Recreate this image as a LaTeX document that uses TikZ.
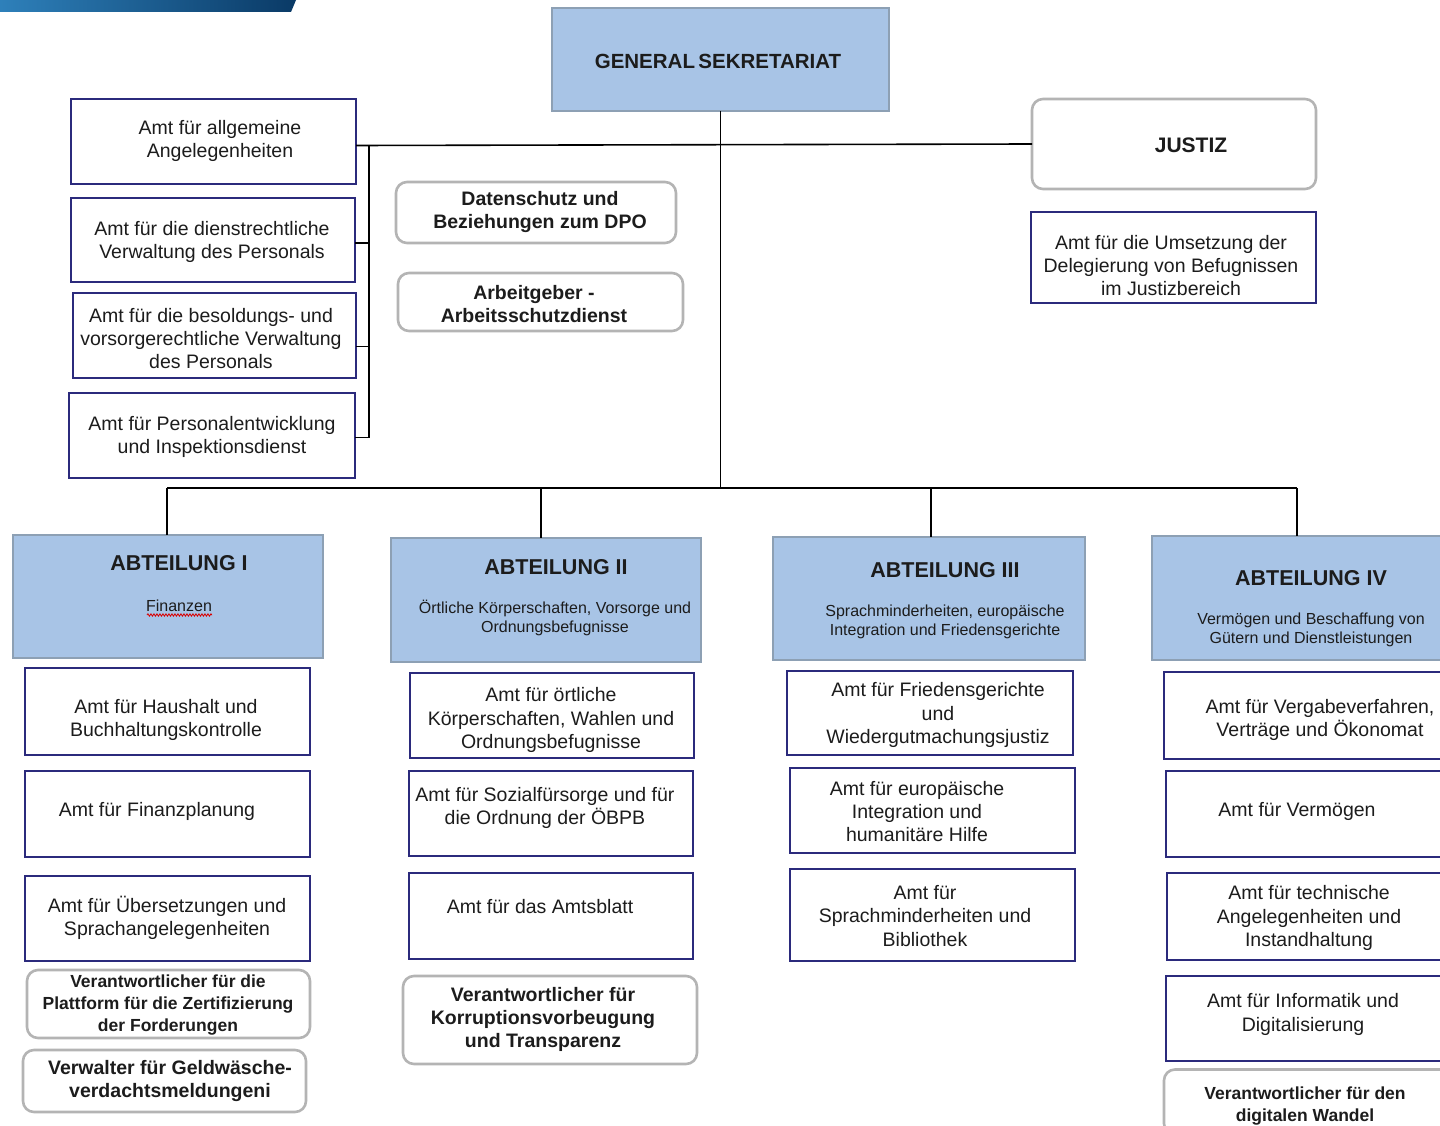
\documentclass[tikz,border=0pt]{standalone}
\usepackage{fontspec}
\setmainfont{Liberation Sans}
\usetikzlibrary{decorations.pathmorphing,calc}
\definecolor{navy}{HTML}{2B2A7C}
\definecolor{hdrfill}{HTML}{A8C4E6}
\definecolor{hdrline}{HTML}{8DA0B4}
\definecolor{rndline}{HTML}{B4B4B4}
\definecolor{ink}{HTML}{1C1C1C}
\definecolor{barL}{HTML}{2E80BA}
\definecolor{barR}{HTML}{0A3A66}
\newcommand\orgbox[9]{%
  \node[#1, minimum width=#5, minimum height=#6] (#2) at (#3,#4) {};
  \node[#1 text] (#2-t) at (#7,#8) {#9};
}
\begin{document}
\begin{tikzpicture}[x=1pt,y=-1pt,
  every node/.style={inner sep=0pt, outer sep=0pt, text=ink},
  amt/.style={draw=navy, line width=2.6pt, fill=white},
  amt text/.style={align=center, yshift=-2.5pt, font=\fontsize{19.5}{23.3}\selectfont},
  rnd/.style={draw=rndline, line width=2.6pt, fill=white, rounded corners=11pt},
  rnd text/.style={align=center, yshift=-2.5pt, font=\fontsize{19.5}{23}\selectfont\bfseries},
  rnds/.style={rnd},
  rnds text/.style={align=center, yshift=-2pt, font=\fontsize{17.5}{22}\selectfont\bfseries},
  hdr/.style={draw=hdrline, line width=2.6pt, fill=hdrfill},
  hdr text/.style={align=center, yshift=-1.5pt, font=\fontsize{21.5}{25}\selectfont\bfseries},
  sub/.style={align=center, yshift=-1.5pt, font=\fontsize{16}{19.5}\selectfont},
  link/.style={draw=black, line width=1.6pt}
]
\clip (0,0) rectangle (1440,1126);
\useasboundingbox (0,0) rectangle (1440,1126);
\fill[white] (0,0) rectangle (1440,1126);
% top blue bar
\shade[left color=barL, right color=barR] (0,0) -- (296,0) -- (291,12) -- (0,12) -- cycle;

% General Sekretariat
\orgbox{hdr}{gs}{720.5}{59.5}{337}{103}{718}{60}{\fontsize{20.5}{24}\selectfont GENERAL\,SEKRETARIAT}
% Justiz
\orgbox{rnd}{justiz}{1174}{144}{284}{90}{1191}{143}{\fontsize{21}{24}\selectfont JUSTIZ}
\orgbox{amt}{umsetz}{1173.5}{257.5}{285}{91}{1171}{263}{Amt für die Umsetzung der\\Delegierung von Befugnissen\\im Justizbereich}

% left staff offices
\orgbox{amt}{a1}{213.5}{141.5}{285}{85}{220}{138.5}{Amt für allgemeine\\Angelegenheiten}
\orgbox{amt}{a2}{213}{240}{284}{84}{212}{239.5}{Amt für die dienstrechtliche\\Verwaltung des Personals}
\orgbox{amt}{a3}{214.5}{335.5}{283}{85}{211}{336}{Amt für die besoldungs- und\\vorsorgerechtliche Verwaltung\\des Personals}
\orgbox{amt}{a4}{212}{435.5}{286}{85}{212}{434.5}{Amt für Personalentwicklung\\und Inspektionsdienst}

% central staff
\orgbox{rnd}{dpo}{536}{212.5}{280}{61}{540}{209.5}{Datenschutz und\\Beziehungen zum DPO}
\orgbox{rnd}{agb}{540.5}{302}{285}{58}{534}{301.5}{Arbeitgeber -\\Arbeitsschutzdienst}

% Abteilungen
\node[hdr, minimum width=310, minimum height=123] (ab1) at (168,596.5) {};
\node[hdr text] (ab1-t) at (179,562) {ABTEILUNG I};
\node[sub] (ab1-s) at (179,604) {Finanzen};
\draw[red!85!black, line width=0.8pt, decorate, decoration={snake, amplitude=1.2pt, segment length=3pt}] (147,615) -- (212,615);

\node[hdr, minimum width=310, minimum height=124] (ab2) at (546,600) {};
\node[hdr text] (ab2-t) at (556,566) {ABTEILUNG II};
\node[sub] (ab2-s) at (555,616.5) {Örtliche Körperschaften, Vorsorge und\\Ordnungsbefugnisse};

\node[hdr, minimum width=312, minimum height=123] (ab3) at (929,598.5) {};
\node[hdr text] (ab3-t) at (945,569) {ABTEILUNG III};
\node[sub] (ab3-s) at (945,620.5) {Sprachminderheiten, europäische\\Integration und Friedensgerichte};

\node[hdr, minimum width=318, minimum height=124] (ab4) at (1311,598) {};
\node[hdr text] (ab4-t) at (1311,577) {ABTEILUNG IV};
\node[sub] (ab4-s) at (1311,628.5) {Vermögen und Beschaffung von\\Gütern und Dienstleistungen};

% column I
\orgbox{amt}{b1}{167.5}{711.5}{285}{87}{166}{717.5}{Amt für Haushalt und\\Buchhaltungskontrolle}
\orgbox{amt}{b2}{167.5}{814}{285}{86}{157}{809}{Amt für Finanzplanung}
\orgbox{amt}{b3}{167.5}{918.5}{285}{85}{167}{915.5}{Amt für Übersetzungen und\\Sprachangelegenheiten}
\orgbox{rnds}{b4}{168.5}{1004}{283}{68}{168}{1003}{Verantwortlicher für die\\Plattform für die Zertifizierung\\der Forderungen}
\orgbox{rnd}{b5}{164.5}{1081}{283}{62}{170}{1078.5}{Verwalter für Geldwäsche-\\verdachtsmeldungeni}

% column II
\orgbox{amt}{c1}{552}{715.5}{284}{85}{551}{717.5}{Amt für örtliche\\Körperschaften, Wahlen und\\Ordnungsbefugnisse}
\orgbox{amt}{c2}{551}{813.5}{284}{85}{545}{805.5}{Amt für Sozialfürsorge und für\\die Ordnung der ÖBPB}
\orgbox{amt}{c3}{551}{916}{284}{86}{540}{904}{Amt für das Amtsblatt}
\orgbox{rnd}{c4}{550}{1020}{294}{88}{543}{1017}{Verantwortlicher für\\Korruptionsvorbeugung\\und Transparenz}

% column III
\orgbox{amt}{d1}{930}{713}{286}{84}{938}{712.5}{Amt für Friedensgerichte\\und\\Wiedergutmachungsjustiz}
\orgbox{amt}{d2}{932.5}{810.5}{285}{85}{917}{809}{Amt für europäische\\Integration und\\humanitäre Hilfe}
\orgbox{amt}{d3}{932.5}{915}{285}{92}{925}{913.5}{Amt für\\Sprachminderheiten und\\Bibliothek}

% column IV
\orgbox{amt}{e1}{1320}{715.5}{312}{87}{1320}{717.5}{Amt für Vergabeverfahren,\\Verträge und Ökonomat}
\orgbox{amt}{e2}{1320}{814}{308}{86}{1297}{809}{Amt für Vermögen}
\orgbox{amt}{e3}{1320}{916.5}{306}{87}{1309}{915.5}{Amt für technische\\Angelegenheiten und\\Instandhaltung}
\orgbox{amt}{e4}{1320}{1018.5}{308}{85}{1303}{1012}{Amt für Informatik und\\Digitalisierung}
\orgbox{rnds}{e5}{1320}{1102}{312}{65}{1305}{1104}{Verantwortlicher für den\\digitalen Wandel}

% connectors
\coordinate (busL) at (167,488);
\coordinate (busR) at (1297,488);
\coordinate (br) at (369,0);
\draw[link] ($(a1.east)+(0,4)$) -- (justiz.west);
\draw[link] (gs.south) -- (gs.south |- busL);
\draw[link] (busL) -- (busR);
\draw[link] ($(a1.east -| br)+(0,4)$) -- ($(a4.east -| br)+(0,2)$);
\draw[link] ($(a2.east)+(0,3)$) -- ($(a2.east -| br)+(0,3)$);
\draw[link] ($(a3.east)+(0,11)$) -- ($(a3.east -| br)+(0,11)$);
\draw[link] ($(a4.east)+(0,2)$) -- ($(a4.east -| br)+(0,2)$);
\draw[link] (busL) -- (busL |- ab1.north);
\draw[link] (541,488) -- (541,538);
\draw[link] (931,488) -- (931,537);
\draw[link] (busR) -- (busR |- ab4.north);
\end{tikzpicture}
\end{document}
